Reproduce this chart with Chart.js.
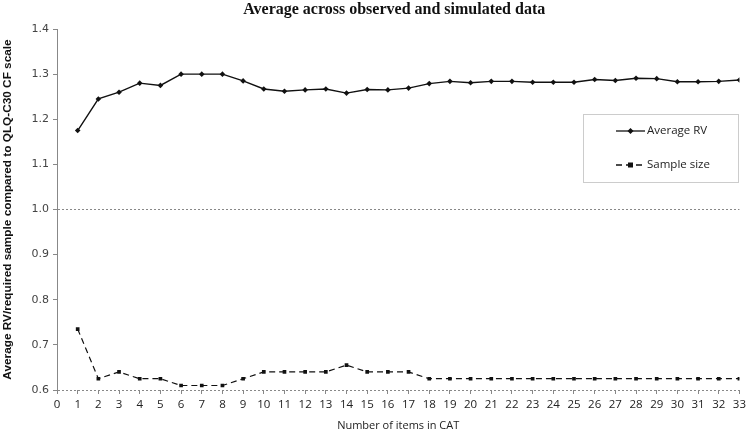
<!DOCTYPE html>
<html>
<head>
<meta charset="utf-8">
<script src="https://cdn.jsdelivr.net/npm/chart.js@4.4.0/dist/chart.umd.min.js"></script>
<style>
  html, body { margin: 0; padding: 0; background: #fff; }
  #wrap { width: 750px; height: 432px; }
</style>
</head>
<body>
<div id="wrap"><canvas id="myChart"></canvas></div>
<script>
const items = [1, 2, 3, 4, 5, 6, 7, 8, 9, 10, 11, 12, 13, 14, 15, 16, 17,
    18, 19, 20, 21, 22, 23, 24, 25, 26, 27, 28, 29, 30, 31, 32, 33];

const averageRV = [1.175, 1.245, 1.260, 1.280, 1.275, 1.300, 1.300, 1.300, 1.285, 1.267,
    1.262, 1.265, 1.267, 1.258, 1.266, 1.265, 1.269, 1.279, 1.284, 1.281,
    1.284, 1.284, 1.282, 1.282, 1.282, 1.288, 1.286, 1.291, 1.290, 1.283,
    1.283, 1.284, 1.287];

const sampleSize = [0.735, 0.625, 0.640, 0.625, 0.625, 0.610, 0.610, 0.610, 0.625, 0.640,
    0.640, 0.640, 0.640, 0.655, 0.640, 0.640, 0.640, 0.625, 0.625, 0.625,
    0.625, 0.625, 0.625, 0.625, 0.625, 0.625, 0.625, 0.625, 0.625, 0.625,
    0.625, 0.625, 0.625];

const yTicks = [0.6, 0.7, 0.8, 0.9, 1.0, 1.1, 1.2, 1.3, 1.4];

const chartTitle = 'Average across observed and simulated data';

function toPoints(values) {
    return items.map((x, i) => ({ x: x, y: values[i] }));
}

// title over the plot area and legend box inside the plot, like the original
const boxLegend = {
    id: 'boxLegend',
    afterDraw(chart) {
        const ctx = chart.ctx;
        const area = chart.chartArea;
        ctx.save();
        ctx.fillStyle = '#111';
        ctx.font = 'bold 16px "Liberation Serif", "DejaVu Serif", serif';
        ctx.textAlign = 'center';
        ctx.textBaseline = 'middle';
        ctx.fillText(chartTitle, (area.left + area.right) / 2 - 4, 10);

        const x0 = 583, y0 = 114, w = 155, h = 68;
        ctx.strokeStyle = '#999';
        ctx.lineWidth = 1;
        ctx.setLineDash([1, 1]);
        ctx.strokeRect(x0 + 0.5, y0 + 0.5, w, h);

        const rows = [
            { y: 131, dash: [], label: 'Average RV', style: 'diamond' },
            { y: 165, dash: [6, 4], label: 'Sample size', style: 'square' }
        ];
        ctx.font = '11.5px "Open Sans", "Liberation Sans", sans-serif';
        ctx.textAlign = 'left';
        rows.forEach(r => {
            ctx.strokeStyle = '#111';
            ctx.lineWidth = 1.3;
            ctx.setLineDash(r.dash);
            ctx.beginPath();
            ctx.moveTo(616, r.y);
            ctx.lineTo(645, r.y);
            ctx.stroke();
            ctx.setLineDash([]);
            ctx.fillStyle = '#111';
            if (r.style === 'diamond') {
                ctx.beginPath();
                ctx.moveTo(630.5, r.y - 3);
                ctx.lineTo(633.5, r.y);
                ctx.lineTo(630.5, r.y + 3);
                ctx.lineTo(627.5, r.y);
                ctx.closePath();
                ctx.fill();
            } else {
                ctx.fillRect(628, r.y - 2.5, 5, 5);
            }
            ctx.fillStyle = '#222';
            ctx.fillText(r.label, 647, r.y);
        });
        ctx.restore();
    }
};

const ctx = document.getElementById('myChart').getContext('2d');

new Chart(ctx, {
    type: 'line',
    data: {
        datasets: [{
            label: 'Average RV',
            data: toPoints(averageRV),
            borderColor: '#111',
            backgroundColor: '#111',
            borderWidth: 1.4,
            pointStyle: 'rectRot',
            pointRadius: 2.8,
            pointBorderWidth: 0,
            tension: 0
        }, {
            label: 'Sample size',
            data: toPoints(sampleSize),
            borderColor: '#111',
            backgroundColor: '#111',
            borderWidth: 1.2,
            borderDash: [6, 4],
            pointStyle: 'rect',
            pointRadius: 2.6,
            pointBorderWidth: 0,
            tension: 0
        }]
    },
    options: {
        responsive: true,
        maintainAspectRatio: false,
        animation: false,
        layout: { padding: { left: 0, right: 8, top: 29, bottom: 0 } },
        plugins: {
            legend: { display: false },
            tooltip: { enabled: false },
            title: { display: false }
        },
        scales: {
            x: {
                type: 'linear',
                min: 0,
                max: 33,
                afterFit: s => { s.height = 42; },
                ticks: {
                    stepSize: 1,
                    autoSkip: false,
                    maxRotation: 0,
                    padding: 4,
                    color: '#222',
                    font: { family: '"Open Sans", "Liberation Sans", sans-serif', size: 11.5 }
                },
                grid: { drawOnChartArea: false, tickLength: 4, tickColor: '#888' },
                border: { display: false },
                title: {
                    display: true,
                    text: 'Number of items in CAT',
                    color: '#222',
                    font: { family: '"Open Sans", "Liberation Sans", sans-serif', size: 11 },
                    padding: { top: 2, bottom: 0 }
                }
            },
            y: {
                min: 0.6,
                max: 1.4,
                afterFit: s => { s.width = 57; },
                afterBuildTicks: s => { s.ticks = yTicks.map(v => ({ value: v })); },
                ticks: {
                    padding: 4,
                    color: '#444',
                    font: { family: '"DejaVu Sans", sans-serif', size: 11 },
                    callback: v => v.toFixed(1)
                },
                grid: {
                    color: c => (c.tick && (Math.abs(c.tick.value - 1.0) < 1e-6 || Math.abs(c.tick.value - 0.6) < 1e-6)) ? '#888' : 'rgba(0,0,0,0)',
                    tickColor: '#888',
                    tickLength: 4
                },
                border: { display: true, color: '#888', width: 1, dash: [2, 2] },
                title: {
                    display: true,
                    text: 'Average RV/required sample compared to QLQ-C30 CF scale',
                    color: '#111',
                    font: { family: '"Liberation Sans", Arial, sans-serif', size: 11.8, weight: 'bold' },
                    padding: { top: 1, bottom: 4 }
                }
            }
        }
    },
    plugins: [boxLegend]
});
</script>
</body>
</html>
